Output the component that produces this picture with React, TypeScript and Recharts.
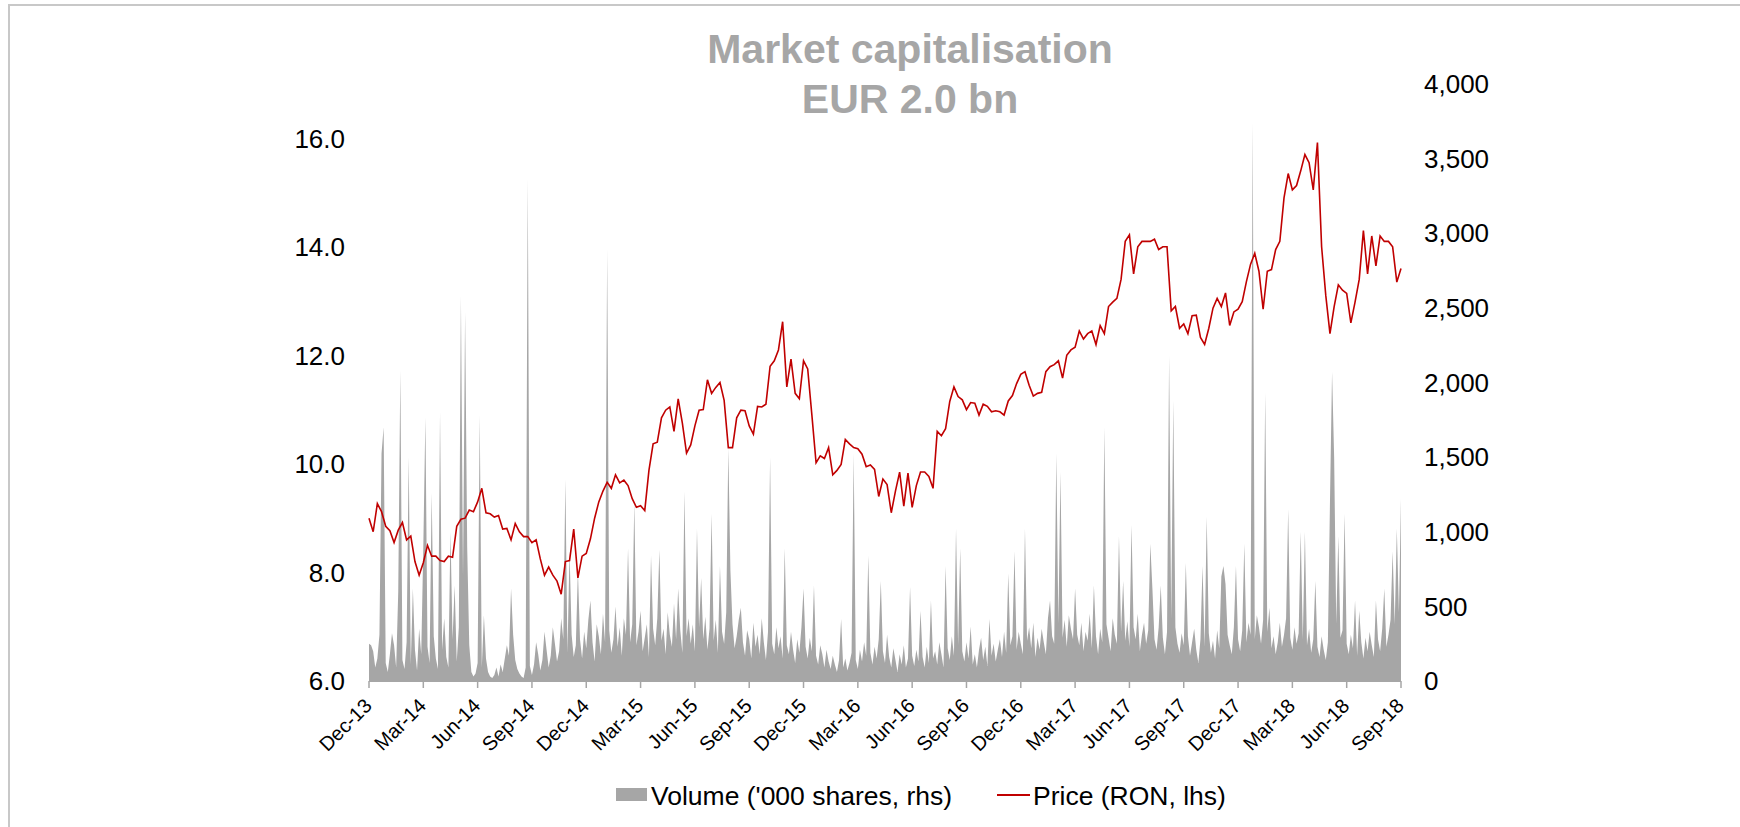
import { ComposedChart, Area, Line, XAxis, YAxis } from 'recharts';

const FONT = '"Liberation Sans", Arial, sans-serif';

// quarter labels on the date axis, one every 3 months from Dec-13
const QUARTER_LABELS = [
  'Dec-13', 'Mar-14', 'Jun-14', 'Sep-14', 'Dec-14', 'Mar-15', 'Jun-15', 'Sep-15', 'Dec-15', 'Mar-16',
  'Jun-16', 'Sep-16', 'Dec-16', 'Mar-17', 'Jun-17', 'Sep-17', 'Dec-17', 'Mar-18', 'Jun-18', 'Sep-18',
];
const QUARTER_TICKS = QUARTER_LABELS.map((_, i) => i * 3);
const MONTHS = QUARTER_TICKS[QUARTER_TICKS.length - 1];

const PRICE_TICKS = [6, 8, 10, 12, 14, 16];
const VOLUME_TICKS = [0, 500, 1000, 1500, 2000, 2500, 3000, 3500, 4000];

// weekly close, RON (lhs)
const PRICE_RON = [
  9.0, 8.75, 9.27, 9.12, 8.85, 8.77, 8.55, 8.78, 8.92, 8.6,
  8.67, 8.2, 7.95, 8.18, 8.5, 8.3, 8.3, 8.22, 8.2, 8.3,
  8.28, 8.85, 8.98, 9.0, 9.15, 9.12, 9.3, 9.55, 9.1, 9.08,
  9.02, 9.05, 8.8, 8.81, 8.6, 8.9, 8.75, 8.66, 8.66, 8.55,
  8.6, 8.25, 7.95, 8.1, 7.95, 7.84, 7.6, 8.2, 8.22, 8.8,
  7.9, 8.3, 8.35, 8.62, 9.0, 9.3, 9.5, 9.66, 9.55, 9.8,
  9.65, 9.7, 9.6, 9.36, 9.2, 9.23, 9.14, 9.88, 10.37, 10.4,
  10.85, 10.99, 11.05, 10.6, 11.2, 10.75, 10.2, 10.35, 10.7, 10.99,
  11.0, 11.55, 11.3, 11.41, 11.5, 11.17, 10.3, 10.3, 10.85, 10.99,
  10.98, 10.7, 10.55, 11.06, 11.05, 11.1, 11.8, 11.9, 12.1, 12.62,
  11.42, 11.93, 11.3, 11.2, 11.9, 11.75, 10.9, 10.02, 10.15, 10.1,
  10.3, 9.8, 9.88, 9.99, 10.45, 10.37, 10.3, 10.28, 10.18, 9.95,
  9.98, 9.9, 9.4, 9.72, 9.62, 9.1, 9.5, 9.85, 9.22, 9.83,
  9.2, 9.6, 9.85, 9.85, 9.77, 9.55, 10.6, 10.52, 10.65, 11.15,
  11.42, 11.24, 11.18, 11.0, 11.13, 11.12, 10.9, 11.1, 11.06, 10.96,
  10.98, 10.96, 10.9, 11.16, 11.26, 11.48, 11.65, 11.7, 11.45, 11.25,
  11.3, 11.32, 11.7, 11.79, 11.83, 11.9, 11.58, 12.0, 12.1, 12.15,
  12.45, 12.3, 12.4, 12.45, 12.2, 12.55, 12.4, 12.9, 12.98, 13.05,
  13.4, 14.1, 14.22, 13.5, 14.0, 14.1, 14.1, 14.1, 14.14, 13.95,
  14.0, 14.0, 12.82, 12.9, 12.5, 12.58, 12.4, 12.73, 12.74, 12.33,
  12.2, 12.5, 12.87, 13.05, 12.9, 13.15, 12.55, 12.8, 12.85, 12.99,
  13.36, 13.68, 13.88, 13.55, 12.85, 13.55, 13.58, 13.95, 14.1, 14.9,
  15.35, 15.05, 15.13, 15.4, 15.7, 15.55, 15.05, 15.92, 14.0, 13.1,
  12.4, 12.9, 13.3, 13.2, 13.14, 12.6, 12.98, 13.4, 14.3, 13.5,
  14.2, 13.65, 14.2, 14.1, 14.1, 14.0, 13.35, 13.6,
];

// traded volume, '000 shares (rhs), two readings per week
const VOLUME_K = [
  250, 240, 200, 90, 150, 310, 1525, 1700, 120, 60,
  180, 320, 240, 90, 600, 2080, 140, 80, 260, 1500,
  110, 620, 210, 70, 350, 180, 900, 1765, 230, 120,
  1260, 300, 150, 80, 1800, 210, 420, 160, 90, 1000,
  280, 640, 130, 360, 2580, 700, 2470, 900, 240, 60,
  30, 50, 120, 1780, 90, 440, 150, 60, 30, 20,
  40, 90, 30, 110, 60, 150, 240, 170, 620, 310,
  140, 80, 50, 30, 20, 90, 3365, 100, 40, 110,
  260, 180, 70, 140, 330, 210, 90, 170, 360, 250,
  130, 200, 420, 280, 1350, 190, 870, 310, 160, 240,
  740, 280, 150, 330, 220, 410, 540, 260, 130, 380,
  300, 180, 450, 260, 2890, 340, 190, 280, 500, 230,
  360, 170, 420, 310, 890, 260, 380, 1200, 240, 330,
  470, 200, 290, 380, 160, 840, 350, 240, 420, 880,
  270, 350, 180, 460, 310, 230, 520, 280, 620, 340,
  190, 1270, 300, 420, 250, 380, 200, 1020, 360, 690,
  280, 430, 210, 350, 1120, 270, 410, 190, 770, 330,
  250, 460, 1560, 740, 380, 220, 300, 410, 490, 260,
  170, 340, 280, 150, 390, 230, 310, 180, 420, 260,
  140, 330, 1500, 250, 180, 360, 220, 300, 150, 890,
  240, 180, 330, 210, 120, 280, 190, 360, 620, 230,
  150, 290, 200, 640, 170, 110, 240, 180, 90, 210,
  130, 80, 170, 110, 60, 140, 415, 90, 150, 70,
  120, 190, 1525, 140, 80, 210, 130, 260, 170, 840,
  190, 110, 230, 150, 280, 670, 200, 120, 310, 160,
  90, 220, 140, 60, 180, 110, 240, 90, 150, 630,
  170, 100, 210, 130, 470, 160, 90, 230, 120, 540,
  150, 200, 110, 260, 180, 90, 770, 220, 140, 300,
  170, 1020, 240, 890, 200, 130, 260, 150, 365, 110,
  180, 90, 210, 290, 140, 230, 100, 415, 170, 250,
  130, 210, 280, 160, 330, 190, 720, 240, 300, 870,
  210, 330, 250, 180, 1020, 270, 360, 220, 390, 160,
  290, 210, 350, 260, 180, 420, 540, 300, 250, 1525,
  380, 1400, 290, 410, 230, 440, 350, 280, 620, 310,
  240, 390, 200, 330, 270, 450, 220, 640, 300, 180,
  350, 260, 1700, 380, 290, 200, 420, 310, 250, 970,
  330, 670, 270, 400, 230, 1045, 360, 280, 450, 200,
  310, 390, 250, 340, 920, 620, 280, 210, 360, 640,
  290, 180, 330, 2180, 410, 1880, 360, 250, 190, 320,
  240, 790, 300, 170, 260, 350, 210, 120, 280, 770,
  230, 1100, 320, 190, 270, 150, 340, 220, 700, 770,
  650, 310, 240, 180, 360, 770, 280, 200, 340, 920,
  260, 390, 310, 3740, 280, 440, 360, 250, 410, 1930,
  330, 490, 220, 300, 180, 260, 390, 230, 310, 420,
  1150, 290, 210, 360, 250, 320, 1000, 280, 1000, 240,
  350, 190, 280, 670, 230, 160, 300, 210, 140, 260,
  1200, 2070, 1500, 380, 970, 290, 340, 1120, 250, 180,
  310, 220, 540, 170, 470, 260, 150, 290, 200, 330,
  240, 160, 540, 280, 200, 350, 620, 230, 310, 410,
  870, 380, 1020, 460, 1220,
];

// spread each series evenly over Dec-13 .. Sep-18 (months from Dec-13)
const priceData = PRICE_RON.map((p, i) => ({ t: (i * MONTHS) / (PRICE_RON.length - 1), p }));
const volumeData = VOLUME_K.map((v, i) => ({ t: (i * MONTHS) / (VOLUME_K.length - 1), v }));

const renderDateTick = (props: any) => {
  const { x, y, payload } = props;
  const label = QUARTER_LABELS[Math.round(payload.value / 3)];
  const ax = x + 4;
  const ay = y + 19;
  return (
    <text
      x={ax}
      y={ay}
      transform={`rotate(-45 ${ax} ${ay})`}
      textAnchor="end"
      fontSize={20}
      fontFamily={FONT}
      fill="#000"
    >
      {label}
    </text>
  );
};

export default function App() {
  return (
    <div
      style={{
        position: 'absolute',
        left: 0,
        top: 0,
        width: 1740,
        height: 827,
        overflow: 'hidden',
        background: '#fff',
        fontFamily: FONT,
      }}
    >
      {/* frame edge */}
      <div
        style={{
          position: 'absolute',
          left: 8,
          top: 4,
          width: 1800,
          height: 900,
          borderTop: '2px solid #C8C8C8',
          borderLeft: '2px solid #C8C8C8',
        }}
      />

      <ComposedChart width={1740} height={827} margin={{ top: 84, right: 279, bottom: 106, left: 309 }}>
        <XAxis
          dataKey="t"
          type="number"
          domain={[0, MONTHS]}
          ticks={QUARTER_TICKS}
          interval={0}
          height={40}
          axisLine={{ stroke: '#A6A6A6', strokeWidth: 2 }}
          tickLine={{ stroke: '#A6A6A6', strokeWidth: 1.5 }}
          tickSize={7}
          tickMargin={0}
          tick={renderDateTick}
        />
        <YAxis
          yAxisId="left"
          orientation="left"
          domain={[6, 17]}
          ticks={PRICE_TICKS}
          interval={0}
          width={60}
          axisLine={false}
          tickLine={false}
          tickSize={0}
          tickMargin={24}
          tickFormatter={(v: number) => v.toFixed(1)}
          tick={{ fontSize: 26, fill: '#000', fontFamily: FONT }}
        />
        <YAxis
          yAxisId="right"
          orientation="right"
          domain={[0, 4000]}
          ticks={VOLUME_TICKS}
          interval={0}
          width={60}
          axisLine={false}
          tickLine={false}
          tickSize={0}
          tickMargin={23}
          tickFormatter={(v: number) => v.toLocaleString('en-US')}
          tick={{ fontSize: 26, fill: '#000', fontFamily: FONT }}
        />

        <Area
          yAxisId="right"
          data={volumeData}
          dataKey="v"
          type="linear"
          stroke="none"
          fill="#A6A6A6"
          fillOpacity={1}
          isAnimationActive={false}
        />
        <Line
          yAxisId="left"
          data={priceData}
          dataKey="p"
          type="linear"
          stroke="#C00000"
          strokeWidth={1.6}
          dot={false}
          isAnimationActive={false}
        />
      </ComposedChart>

      {/* title + legend */}
      <svg
        width={1740}
        height={827}
        style={{ position: 'absolute', left: 0, top: 0, pointerEvents: 'none' }}
        fontFamily={FONT}
      >
        <text x={910} y={63} textAnchor="middle" fontSize={41} fontWeight="bold" fill="#A6A6A6">
          Market capitalisation
        </text>
        <text x={910} y={113} textAnchor="middle" fontSize={41} fontWeight="bold" fill="#A6A6A6">
          EUR 2.0 bn
        </text>

        <rect x={616} y={788} width={31} height={13} fill="#A6A6A6" />
        <text x={651} y={805} fontSize={26.5} fill="#000">
          Volume ('000 shares, rhs)
        </text>
        <line x1={997} y1={795} x2={1030} y2={795} stroke="#C00000" strokeWidth={2} />
        <text x={1033} y={805} fontSize={26.5} fill="#000">
          Price (RON, lhs)
        </text>
      </svg>
    </div>
  );
}
